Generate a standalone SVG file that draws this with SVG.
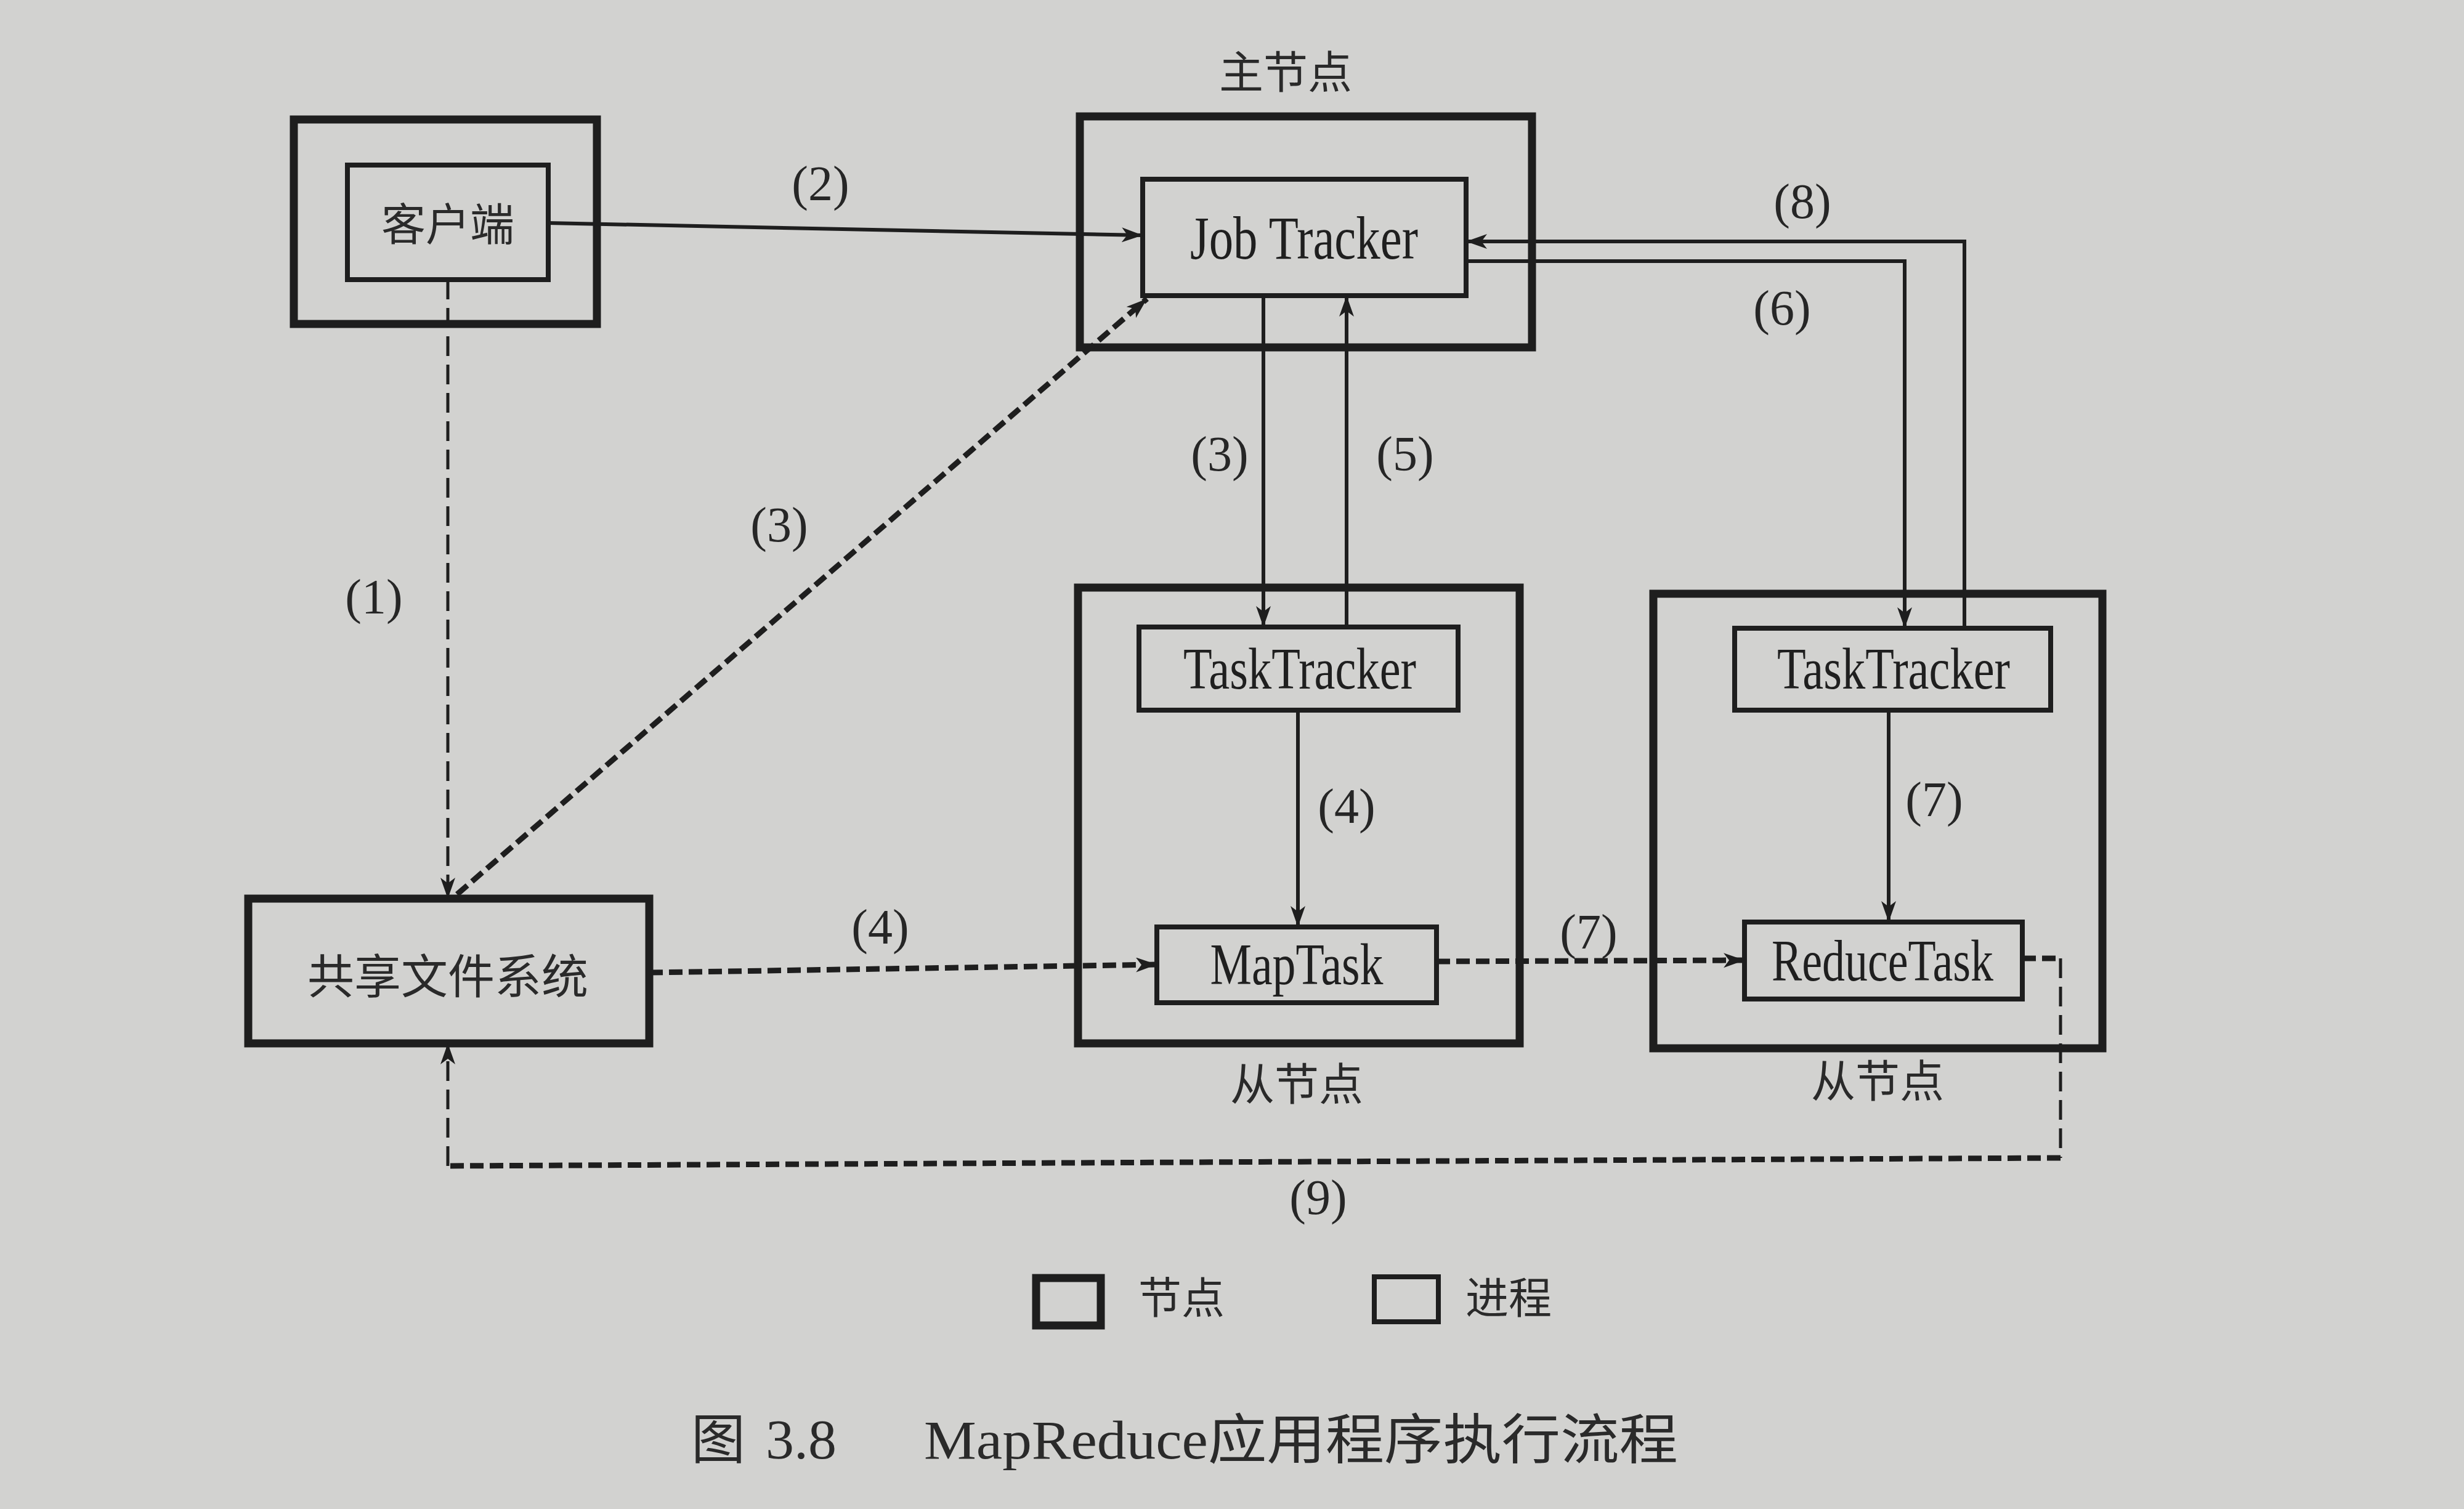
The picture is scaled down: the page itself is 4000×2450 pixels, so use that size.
<svg xmlns="http://www.w3.org/2000/svg" width="4000" height="2450" viewBox="0 0 4000 2450">
<defs>
<marker id="arr" markerUnits="userSpaceOnUse" markerWidth="40" markerHeight="28" refX="34" refY="12" orient="auto">
<path d="M0,0 L34,12 L0,24 L9,12 z" fill="#1e1e1e"/>
</marker>
<style>
.node{fill:none;stroke:#1e1e1e;stroke-width:13}
.proc{fill:none;stroke:#1e1e1e;stroke-width:8}
.en{font-family:"Liberation Serif","Noto Serif",serif;fill:#1f1f1f;text-anchor:middle}
.cn{font-family:"Noto Sans CJK SC","Noto Sans CJK JP",sans-serif;fill:#2a2a2a;text-anchor:middle}
.lbl{font-family:"Liberation Serif",serif;font-size:80px;fill:#262626;text-anchor:middle}
.sl{fill:none;stroke:#1e1e1e;stroke-width:6}
.dh{fill:none;stroke:#1e1e1e;stroke-width:9;stroke-dasharray:22 10}
.dv{fill:none;stroke:#1e1e1e;stroke-width:5;stroke-dasharray:32 14}
</style>
</defs>
<rect x="0" y="0" width="4000" height="2450" fill="#d2d2d0"/>

<g id="client">
<rect class="node" x="477" y="194" width="492" height="332"/>
<rect class="proc" x="564" y="268" width="326" height="186"/>
<text class="cn" x="727" y="390" font-size="72">客户端</text>
</g>

<g id="master">
<rect class="node" x="1753" y="189" width="734" height="375"/>
<text class="cn" x="2087" y="143" font-size="72">主节点</text>
<rect class="proc" x="1855" y="291" width="525" height="189"/>
<text class="en" x="2117" y="420" font-size="100" textLength="370" lengthAdjust="spacingAndGlyphs">Job Tracker</text>
</g>

<g id="slave1">
<rect class="node" x="1750" y="954" width="717" height="740"/>
<text class="cn" x="2105" y="1786" font-size="72">从节点</text>
<rect class="proc" x="1849" y="1018" width="518" height="135"/>
<text class="en" x="2110" y="1118" font-size="96" textLength="378" lengthAdjust="spacingAndGlyphs">TaskTracker</text>
<rect class="proc" x="1878" y="1505" width="454" height="123"/>
<text class="en" x="2105" y="1598" font-size="96" textLength="281" lengthAdjust="spacingAndGlyphs">MapTask</text>
</g>

<g id="slave2">
<rect class="node" x="2684" y="964" width="729" height="738"/>
<text class="cn" x="3048" y="1781" font-size="72">从节点</text>
<rect class="proc" x="2816" y="1020" width="513" height="133"/>
<text class="en" x="3074" y="1118" font-size="96" textLength="378" lengthAdjust="spacingAndGlyphs">TaskTracker</text>
<rect class="proc" x="2832" y="1497" width="451" height="125"/>
<text class="en" x="3056" y="1592" font-size="96" textLength="360" lengthAdjust="spacingAndGlyphs">ReduceTask</text>
</g>

<g id="sharedfs">
<rect class="node" x="403" y="1459" width="651" height="235"/>
<text class="cn" x="727" y="1613" font-size="76">共享文件系统</text>
</g>

<g id="connectors">
<line class="sl" x1="890" y1="362" x2="1855" y2="382" marker-end="url(#arr)"/>
<line class="dv" x1="727" y1="454" x2="727" y2="1459" marker-end="url(#arr)"/>
<line class="dh" x1="742" y1="1452" x2="1862" y2="485" marker-end="url(#arr)"/>
<line class="sl" x1="2051" y1="480" x2="2051" y2="1018" marker-end="url(#arr)"/>
<line class="sl" x1="2186" y1="1018" x2="2186" y2="480" marker-end="url(#arr)"/>
<line class="sl" x1="2107" y1="1153" x2="2107" y2="1505" marker-end="url(#arr)"/>
<line class="dh" x1="1054" y1="1579" x2="1878" y2="1566" marker-end="url(#arr)"/>
<polyline class="sl" points="2380,424 3092,424 3092,1020" marker-end="url(#arr)"/>
<polyline class="sl" points="3189,1020 3189,392 2380,392" marker-end="url(#arr)"/>
<line class="sl" x1="3066" y1="1153" x2="3066" y2="1497" marker-end="url(#arr)"/>
<line class="dh" x1="2332" y1="1561" x2="2832" y2="1559" marker-end="url(#arr)"/>
<polyline class="dh" points="3283,1556 3345,1556"/>
<polyline class="dv" points="3345,1556 3345,1880"/>
<polyline class="dh" points="3345,1880 727,1893"/>
<polyline class="dv" points="727,1893 727,1694" marker-end="url(#arr)"/>
</g>

<g id="labels">
<text class="lbl" x="1332" y="325">(2)</text>
<text class="lbl" x="607" y="996">(1)</text>
<text class="lbl" x="1265" y="879">(3)</text>
<text class="lbl" x="1980" y="764">(3)</text>
<text class="lbl" x="2281" y="764">(5)</text>
<text class="lbl" x="2186" y="1336">(4)</text>
<text class="lbl" x="1429" y="1532">(4)</text>
<text class="lbl" x="2893" y="527">(6)</text>
<text class="lbl" x="2926" y="354">(8)</text>
<text class="lbl" x="3140" y="1325">(7)</text>
<text class="lbl" x="2579" y="1540">(7)</text>
<text class="lbl" x="2140" y="1971">(9)</text>
</g>

<g id="legend">
<rect class="node" x="1682" y="2075" width="105" height="77"/>
<text class="cn" x="1918" y="2133" font-size="70">节点</text>
<rect class="proc" x="2231" y="2073" width="104" height="73"/>
<text class="cn" x="2449" y="2133" font-size="70">进程</text>
</g>

<g id="caption">
<text class="cn" x="1122" y="2368" font-size="88" style="text-anchor:start">图</text>
<text class="en" x="1243" y="2368" font-size="92" style="text-anchor:start;fill:#2a2a2a">3.8</text>
<text x="1500" y="2368" font-size="88" style="font-family:'Liberation Serif','Noto Sans CJK SC',serif;fill:#2a2a2a" textLength="1224" lengthAdjust="spacingAndGlyphs">MapReduce应用程序执行流程</text>
</g>
</svg>
